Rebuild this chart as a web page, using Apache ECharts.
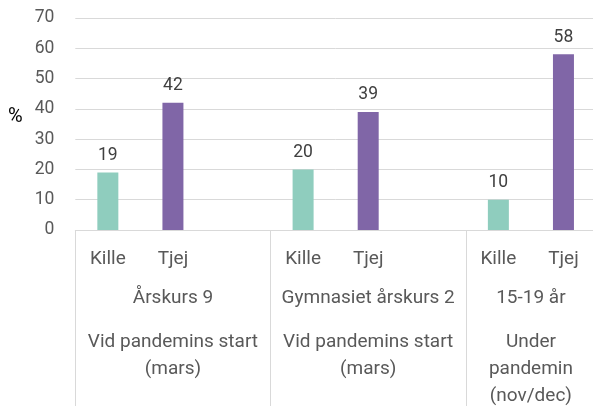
<!DOCTYPE html>
<html>
<head>
<meta charset="utf-8">
<script src="https://cdn.jsdelivr.net/npm/echarts@6/dist/echarts.min.js"></script>
<style>
html,body{margin:0;padding:0;overflow:hidden;background:#fff;width:593px;height:406px;}
#c{width:600px;height:406px;}
</style>
</head>
<body>
<div id="c"></div>
<script>
// Groups: two first groups have an empty third slot, last group is Kille/Tjej only
const groupNames = ['Årskurs 9', 'Gymnasiet årskurs 2', '15-19 år'];
const periods = ['Vid pandemins start\n(mars)', 'Vid pandemins start\n(mars)', 'Under\npandemin\n(nov/dec)'];
const groupSlots = [['Kille', 'Tjej', ''], ['Kille', 'Tjej', ''], ['Kille', 'Tjej']];
const killeValues = [19, 20, 10];
const tjejValues = [42, 39, 58];
const yTicks = [0, 10, 20, 30, 40, 50, 60, 70];

const cats = [];
const killeData = [];
const tjejData = [];
const groupStart = [];
const groupCenter = {};
const periodCenter = {};
groupSlots.forEach((slots, i) => {
  groupStart.push(cats.length);
  const c = cats.length + slots.length / 2;
  groupCenter[c] = groupNames[i];
  periodCenter[c] = periods[i];
  slots.forEach((s, j) => {
    cats.push(s + '|' + i + '|' + j);
    killeData.push(s === 'Kille' ? killeValues[i] : null);
    tjejData.push(s === 'Tjej' ? tjejValues[i] : null);
  });
});
const nCats = cats.length;

const txt = '#595959';
const font = 'Roboto, "Noto Sans", sans-serif';
const chart = echarts.init(document.getElementById('c'));
chart.setOption({
  animation: false,
  textStyle: { fontFamily: font },
  graphic: [
    { type: 'text', left: 8, top: 107, style: { text: '%', fontSize: 20, fill: '#000000', fontFamily: font } },
    { type: 'text', x: 269, y: 5, style: { text: 'Totalt', fontSize: 19, fill: txt, fontFamily: font, align: 'center', verticalAlign: 'bottom' } }
  ],
  grid: { left: 75.3, right: 4, top: 18, bottom: 176, containLabel: false, outerBoundsMode: 'none' },
  xAxis: [
    {
      type: 'category', data: cats, position: 'bottom',
      axisLine: { show: true, lineStyle: { color: '#d9d9d9', width: 1 } },
      axisTick: { show: true, length: 180, lineStyle: { color: '#d9d9d9', width: 1 },
        interval: (idx) => groupStart.indexOf(idx) >= 0 },
      axisLabel: { interval: 0, margin: 19.5, fontSize: 19, color: txt, lineHeight: 20, verticalAlign: 'top',
        formatter: v => v.split('|')[0] }
    },
    {
      type: 'value', min: 0, max: nCats, interval: 0.5, position: 'bottom',
      axisLine: { show: false }, axisTick: { show: false }, splitLine: { show: false },
      axisLabel: { margin: 58, fontSize: 19, color: txt, lineHeight: 20, verticalAlign: 'top',
        showMinLabel: true, showMaxLabel: true,
        formatter: v => groupCenter[v] || '' }
    },
    {
      type: 'value', min: 0, max: nCats, interval: 0.5, position: 'bottom',
      axisLine: { show: false }, axisTick: { show: false }, splitLine: { show: false },
      axisLabel: { margin: 99, fontSize: 19, color: txt, lineHeight: 27, verticalAlign: 'top',
        showMinLabel: true, showMaxLabel: true,
        formatter: v => periodCenter[v] || '' }
    }
  ],
  yAxis: {
    type: 'value', min: yTicks[0], max: yTicks[yTicks.length - 1], interval: 10,
    axisLine: { show: false }, axisTick: { show: false },
    splitLine: { lineStyle: { color: '#d9d9d9', width: 1 } },
    axisLabel: { fontSize: 17.5, color: txt, margin: 21 }
  },
  series: [
    {
      name: 'Kille', type: 'bar', xAxisIndex: 0, data: killeData, barWidth: 21, barGap: '-100%',
      itemStyle: { color: '#8FCDBE' },
      label: { show: true, position: 'top', distance: 8, fontSize: 17.5, color: '#404040' }
    },
    {
      name: 'Tjej', type: 'bar', xAxisIndex: 0, data: tjejData, barWidth: 21, barGap: '-100%',
      itemStyle: { color: '#8066A7' },
      label: { show: true, position: 'top', distance: 8, fontSize: 17.5, color: '#404040' }
    }
  ]
});
</script>
</body>
</html>
